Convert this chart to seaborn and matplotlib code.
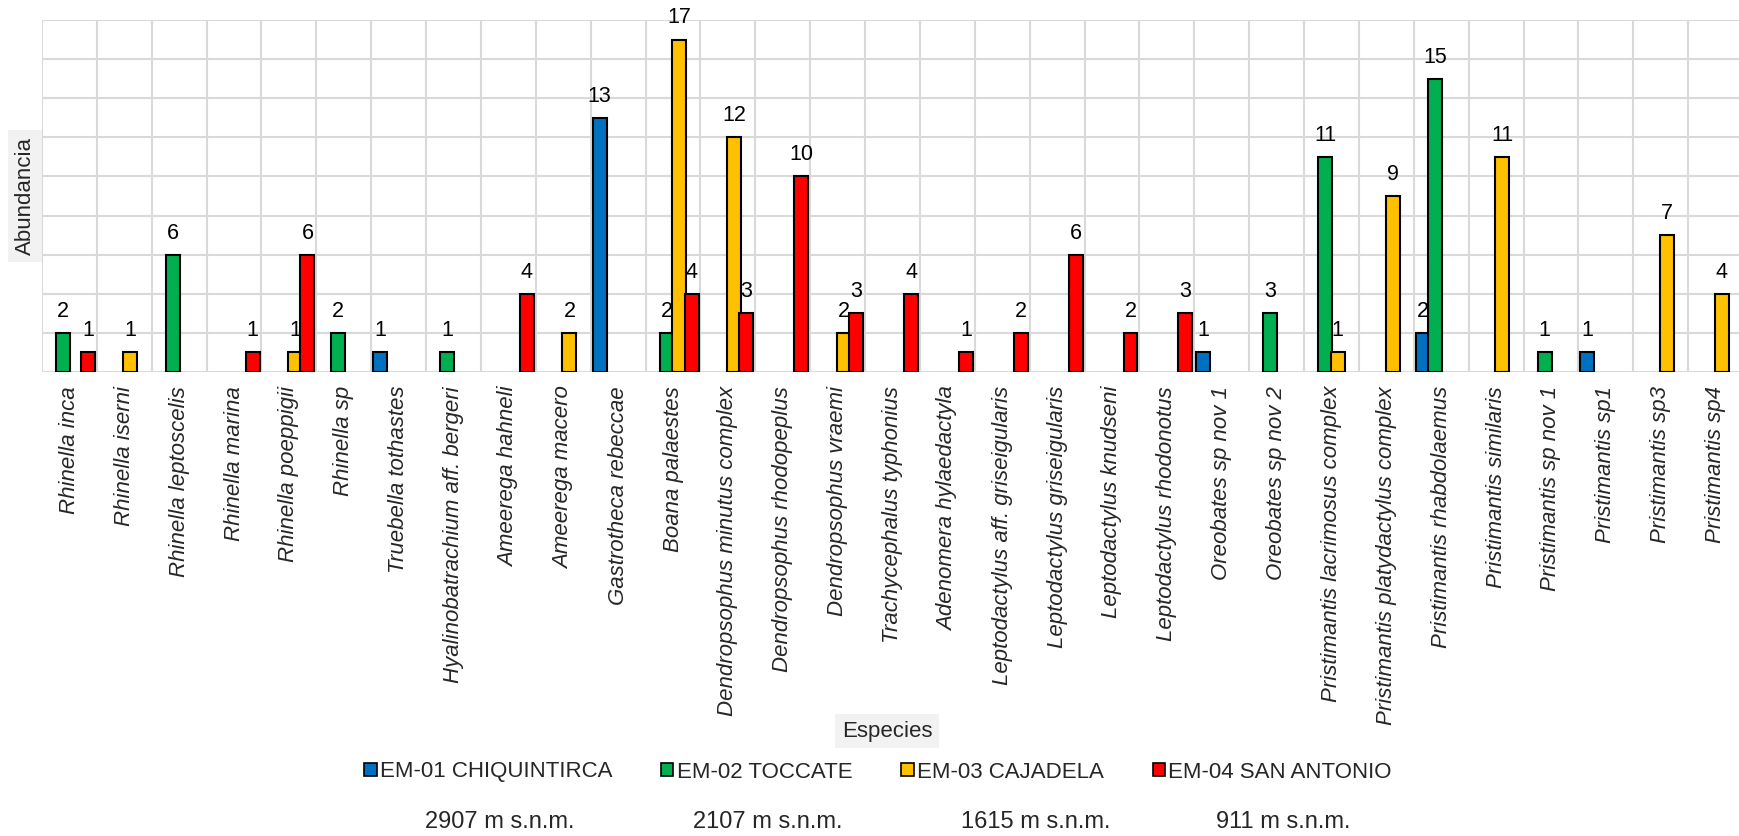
import matplotlib
matplotlib.use("Agg")
import matplotlib.pyplot as plt
import matplotlib.patches as mpatches
import seaborn as sns
import pandas as pd
import numpy as np

# Species on the x axis
species = [
    "Rhinella inca", "Rhinella iserni", "Rhinella leptoscelis", "Rhinella marina",
    "Rhinella poeppigii", "Rhinella sp", "Truebella tothastes",
    "Hyalinobatrachium aff. bergeri", "Ameerega hahneli", "Ameerega macero",
    "Gastrotheca rebeccae", "Boana palaestes", "Dendropsophus minutus complex",
    "Dendropsophus rhodopeplus", "Dendropsophus vraemi", "Trachycephalus typhonius",
    "Adenomera hylaedactyla", "Leptodactylus aff. griseigularis",
    "Leptodactylus griseigularis", "Leptodactylus knudseni", "Leptodactylus rhodonotus",
    "Oreobates sp nov 1", "Oreobates sp nov 2", "Pristimantis lacrimosus complex",
    "Pristimantis platydactylus complex", "Pristimantis rhabdolaemus",
    "Pristimantis similaris", "Pristimantis sp nov 1", "Pristimantis sp1",
    "Pristimantis sp3", "Pristimantis sp4",
]

# Sampling stations and their altitudes
stations = ["EM-01 CHIQUINTIRCA", "EM-02 TOCCATE", "EM-03 CAJADELA", "EM-04 SAN ANTONIO"]
altitudes = ["2907 m s.n.m.", "2107 m s.n.m.", "1615 m s.n.m.", "911 m s.n.m."]
colors = ["#0070C0", "#00B050", "#FFC000", "#FF0000"]

# Abundance per species (0 = not recorded)
em01 = [0, 0, 0, 0, 0, 0, 1, 0, 0, 0, 13, 0, 0, 0, 0, 0, 0, 0, 0, 0, 0, 1, 0, 0, 0, 2, 0, 0, 1, 0, 0]
em02 = [2, 0, 6, 0, 0, 2, 0, 1, 0, 0, 0, 2, 0, 0, 0, 0, 0, 0, 0, 0, 0, 0, 3, 11, 0, 15, 0, 1, 0, 0, 0]
em03 = [0, 1, 0, 0, 1, 0, 0, 0, 0, 2, 0, 17, 12, 0, 2, 0, 0, 0, 0, 0, 0, 0, 0, 1, 9, 0, 11, 0, 0, 7, 4]
em04 = [1, 0, 0, 1, 6, 0, 0, 0, 4, 0, 0, 4, 3, 10, 3, 4, 1, 2, 6, 2, 3, 0, 0, 0, 0, 0, 0, 0, 0, 0, 0]

rows = []
for st, vals in zip(stations, [em01, em02, em03, em04]):
    for sp, v in zip(species, vals):
        if v > 0:
            rows.append({"Especie": sp, "Estacion": st, "Abundancia": v})
df = pd.DataFrame(rows)

sns.set_theme(style="white")
plt.rcParams["font.family"] = ["Liberation Sans", "DejaVu Sans"]

W, H = 1740, 836
fig = plt.figure(figsize=(W / 100, H / 100), dpi=100)
ax = fig.add_axes([42 / W, 1 - 372 / H, 1701 / W, 352 / H])

sns.barplot(
    data=df, x="Especie", y="Abundancia", hue="Estacion",
    order=species, hue_order=stations, palette=dict(zip(stations, colors)),
    saturation=1, width=0.9, edgecolor="black", linewidth=1.5, legend=False, ax=ax,
)

# Slightly wider bars so neighbouring bars overlap a little
bar_w = 0.255
for cont in ax.containers:
    for p in cont.patches:
        cx = p.get_x() + p.get_width() / 2
        p.set_x(cx - bar_w / 2)
        p.set_width(bar_w)
    ax.bar_label(cont, fmt="%g", padding=8, fontsize=15.5, color="black")

ax.set_ylim(0, 18)
ax.set_xlim(-0.5, len(species) - 0.5)
ax.set_yticks(np.arange(0, 19, 2))
ax.set_yticklabels([])
ax.set_xticks(np.arange(len(species)))
ax.set_xticks(np.arange(-0.5, len(species), 1), minor=True)
ax.set_xticklabels(species, rotation=90, fontstyle="italic", fontsize=16)
ax.tick_params(axis="x", which="both", length=0, pad=10)
ax.tick_params(axis="y", length=0)
ax.set_axisbelow(True)
ax.grid(False)
ax.yaxis.grid(True, color="#d9d9d9", linewidth=1.5)
ax.xaxis.grid(True, which="minor", color="#d9d9d9", linewidth=1.5)
for s in ax.spines.values():
    s.set_visible(False)

ax.set_xlabel("")
ax.set_ylabel("")

box = dict(boxstyle="square,pad=0.3", facecolor="#f2f2f2", edgecolor="none")
fig.text(25 / W, 1 - 196 / H, "Abundancia", rotation=90, ha="center", va="center",
         fontsize=16, bbox=box)
fig.text(887 / W, 1 - 731 / H, "Especies", ha="center", va="center",
         fontsize=16, bbox=box)

handles = [mpatches.Patch(facecolor=c, edgecolor="black", linewidth=1.2) for c in colors]
fig.legend(handles, stations, loc="center", bbox_to_anchor=(878 / W, 1 - 772 / H),
           ncol=4, frameon=False, fontsize=16, handlelength=0.55, handleheight=0.55,
           handletextpad=0.15, columnspacing=2.2)

for x, txt in zip([500, 768, 1036, 1283], altitudes):
    fig.text(x / W, 1 - 822 / H, txt, ha="center", va="center", fontsize=17)

fig.savefig("out.png", dpi=100)
